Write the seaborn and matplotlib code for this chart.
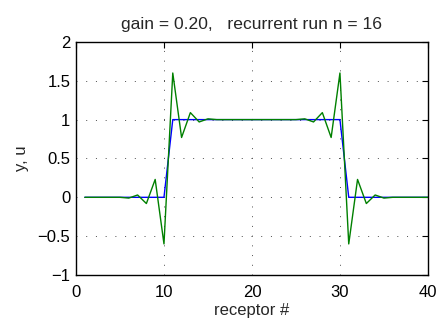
import numpy as np
import pandas as pd
import matplotlib
matplotlib.use("Agg")
import matplotlib.pyplot as plt
import seaborn as sns

# receptor index and signals
receptor = list(range(1, 41))
u = [0]*10 + [1]*20 + [0]*10
y = ([0, 0, 0, 0, 0, -0.01, 0.03, -0.08, 0.23, -0.6,
      1.6, 0.77, 1.09, 0.97, 1.01, 1.0, 1.0, 1.0, 1.0, 1.0]
     + [1.0, 1.0, 1.0, 1.0, 1.0, 1.01, 0.97, 1.09, 0.77, 1.6,
        -0.6, 0.23, -0.08, 0.03, -0.01, 0, 0, 0, 0, 0])

df = pd.DataFrame({"receptor": receptor, "u": u, "y": y})

sns.set_style("white")
plt.rcParams['font.family'] = ['Liberation Sans', 'DejaVu Sans']

fig = plt.figure(figsize=(4.38, 3.2), dpi=100)
ax = fig.add_axes([0.1735, 0.1406, 0.8035, 0.7284])

sns.lineplot(x="receptor", y="u", data=df, color="blue", lw=1, ax=ax)
sns.lineplot(x="receptor", y="y", data=df, color="green", lw=1, ax=ax)

ax.set_xlim(0, 40)
ax.set_ylim(-1, 2)
ax.set_xticks([0, 10, 20, 30, 40])
ax.set_yticks(np.arange(-1, 2.01, 0.5))
ax.set_yticklabels(["\u22121", "\u22120.5", "0", "0.5", "1", "1.5", "2"])
ax.grid(True, color="0.3", linestyle=(0, (1, 9)), lw=0.7)
ax.tick_params(direction="in", length=4, labelsize=12, top=True, right=True,
               colors="black")
ax.tick_params(axis="x", pad=7)
ax.tick_params(axis="y", pad=4)
for s in ax.spines.values():
    s.set_color("black")
    s.set_linewidth(1)

ax.set_xlabel("receptor #", fontsize=12, labelpad=2)
ax.set_ylabel("y, u", fontsize=12, labelpad=6)
ax.set_title("gain = 0.20,   recurrent run n = 16", fontsize=12.6, pad=9)

fig.savefig("out.png", dpi=100)
